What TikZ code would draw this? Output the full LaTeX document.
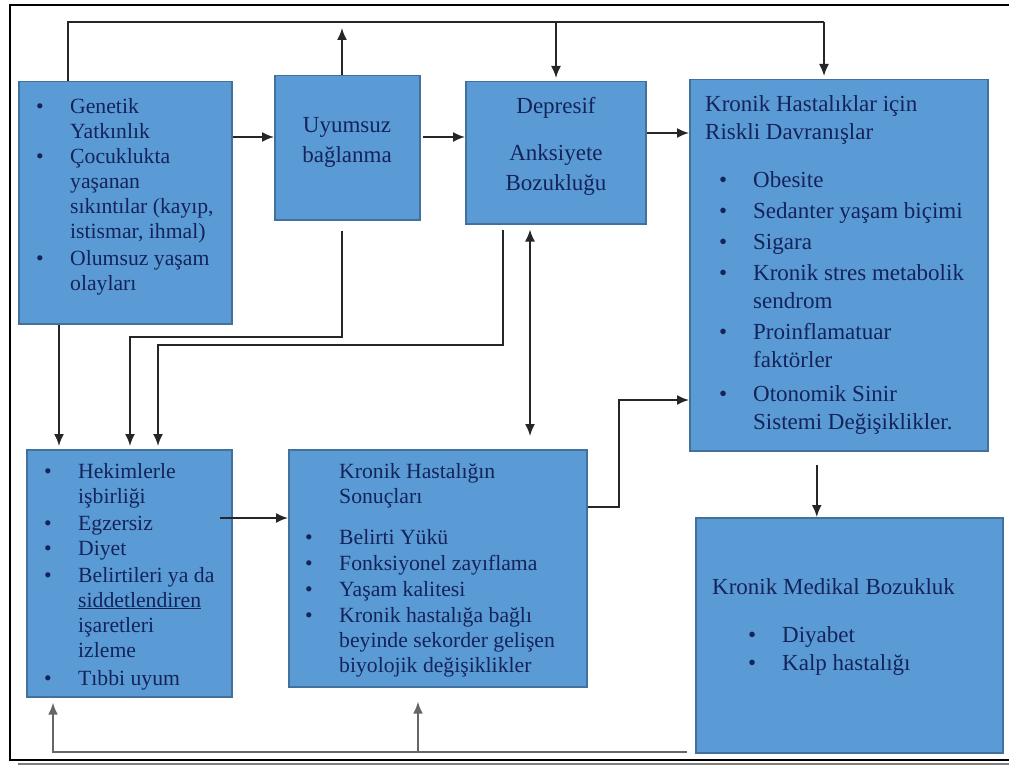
\documentclass[tikz,border=0pt]{standalone}
\usepackage{fontspec}
\setmainfont{Liberation Serif}
\usepackage{tikz}
\usetikzlibrary{calc}
\usetikzlibrary{arrows.meta}
\usetikzlibrary{positioning}
\definecolor{boxfill}{HTML}{5B9BD5}
\definecolor{boxline}{HTML}{41719C}
\definecolor{boxtext}{HTML}{14235A}
\newcommand{\bul}{\makebox[34pt][l]{\textbullet}}
\newcommand{\ind}{\hspace*{34pt}}

\begin{document}
\begin{tikzpicture}[
x=1pt,y=-1pt,
MyBoxes/.style={draw=boxline,fill=boxfill,line width=1.5pt,inner sep=0pt,anchor=north west},
MyText/.style={text=boxtext,inner sep=0pt,align=left,anchor=base west,font=\fontsize{21.7}{25}\selectfont},
BigText/.style={MyText,font=\fontsize{23}{28}\selectfont},
MyLines/.style={draw=black!85,line width=1.8pt},
MyArrows/.style={MyLines,-{Latex[length=12pt,width=10pt]},shorten >=3pt},
FeedLines/.style={draw=black!60,line width=2.4pt},
FeedArrows/.style={FeedLines,-{Latex[length=12pt,width=10pt]}}
]
\useasboundingbox (0,0) rectangle (1009,765);

% page frame
\draw[line width=2.5pt] (1009,5) -- (10,5) -- (10,760) -- (1009,760);
\draw[gray,line width=3pt] (18,764) -- (1009,764);

% boxes
\node[MyBoxes,minimum width=213pt,minimum height=242pt] (gen) at (18,81) {};
\node[MyBoxes,minimum width=145pt,minimum height=144pt] (uyum) at (274,75) {};
\node[MyBoxes,minimum width=180pt,minimum height=142pt] (dep) at (465,81) {};
\node[MyBoxes,minimum width=298pt,minimum height=371pt] (risk) at (689,79) {};
\node[MyBoxes,minimum width=205pt,minimum height=247pt] (hek) at (26,449) {};
\node[MyBoxes,minimum width=298pt,minimum height=237pt] (sonuc) at (288,449) {};
\node[MyBoxes,minimum width=307pt,minimum height=235pt] (med) at (695,517) {};

% texts (anchored at the baseline of their last line)
\node[MyText] (gentxt) at (36,290) {\bul Genetik\\ \ind Yatkınlık\\ \bul Çocuklukta\\ \ind yaşanan\\ \ind sıkıntılar (kayıp,\\ \ind istismar, ihmal)\\[2pt] \bul Olumsuz yaşam\\ \ind olayları};
\node[BigText,align=center,anchor=base] (uyumtxt) at (347,162) {Uyumsuz\\[1pt] bağlanma};
\node[BigText,align=center,anchor=base] (deptxt) at (556,190) {Depresif\\[19pt] Anksiyete\\[2pt] Bozukluğu};
\node[BigText] (risktxt) at (705,429) {Kronik Hastalıklar için\\ Riskli Davranışlar\\[20pt]
\hspace*{14pt}\bul Obesite\\[3pt]
\hspace*{14pt}\bul Sedanter yaşam biçimi\\[3pt]
\hspace*{14pt}\bul Sigara\\[3pt]
\hspace*{14pt}\bul Kronik stres metabolik\\
\hspace*{48pt}sendrom\\[3pt]
\hspace*{14pt}\bul Proinflamatuar\\
\hspace*{48pt}faktörler\\[6pt]
\hspace*{14pt}\bul Otonomik Sinir\\
\hspace*{48pt}Sistemi Değişiklikler.};
\node[MyText] (hektxt) at (44,685) {\bul Hekimlerle\\ \ind işbirliği\\[2pt] \bul Egzersiz\\ \bul Diyet\\[2pt] \bul Belirtileri ya da\\ \ind \underline{siddetlendiren}\\ \ind işaretleri\\ \ind izleme\\[3pt] \bul Tıbbi uyum};
\node[MyText] (sonuctxt) at (305,672) {\ind Kronik Hastalığın\\ \ind Sonuçları\\[16pt] \bul Belirti Yükü\\[1pt] \bul Fonksiyonel zayıflama\\[1pt] \bul Yaşam kalitesi\\[1pt] \bul Kronik hastalığa bağlı\\ \ind beyinde sekorder gelişen\\ \ind biyolojik değişiklikler};
\node[BigText] (medtxt) at (712,670) {Kronik Medikal Bozukluk\\[20pt] \hspace*{36pt}\bul Diyabet\\ \hspace*{36pt}\bul Kalp hastalığı};

% bends of the connectors
\coordinate (tA) at (68,22);
\coordinate (tC) at (556,22);
\coordinate (tD) at (824,22);
\coordinate (upB) at (342,28);
\coordinate (rowA) at (0,137);
\coordinate (rowC) at (0,133);
\coordinate (kB) at (130,337);
\coordinate (kC) at (158,345);
\coordinate (rowE) at (0,518);
\coordinate (rowF) at (0,507);
\coordinate (kF) at (619,400);
\coordinate (fb) at (687,752);
\coordinate (fbL) at (53,752);
\coordinate (fbF) at (418,752);

% connectors
\draw[MyLines] (gen.north -| tA) -- (tA) -- (tD);
\draw[MyArrows] (tD) -- (tD |- risk.north);
\draw[MyArrows] (tC) -- (tC |- dep.north);
\draw[MyArrows,shorten >=0pt] (uyum.north -| upB) -- (upB);
\draw[MyArrows,shorten >=0pt] (gen.east |- rowA) -- (uyum.west |- rowA);
\draw[MyArrows,shorten >=0pt] ($(uyum.east |- rowA)+(2,0)$) -- (dep.west |- rowA);
\draw[MyArrows,shorten >=0pt] (dep.east |- rowC) -- (risk.west |- rowC);
\draw[MyArrows] ($(uyum.south -| upB)+(0,10)$) |- (kB) -- (kB |- hek.north);
\draw[MyArrows] ($(gen.south west)+(41,0)$) -- ($(hek.north west)+(33,0)$);
\draw[MyArrows] ($(dep.south west)+(38,5)$) |- (kC) -- (kC |- hek.north);
\draw[MyLines,{Latex[length=12pt,width=10pt]}-{Latex[length=12pt,width=10pt]}] ($(dep.south west)+(65,5)$) -- ($(sonuc.north west)+(242,-13)$);
\draw[MyArrows,shorten >=0pt] ($(hek.east |- rowE)+(-13,0)$) -- (sonuc.west |- rowE);
\draw[MyArrows,shorten >=0pt] (sonuc.east |- rowF) -| (kF) -- (risk.west |- kF);
\draw[MyArrows,shorten >=0pt] ($(risk.south)+(-22,13)$) -- ($(med.north)+(-32.5,0)$);
\draw[FeedArrows] (fb) -- (fbL) -- ($(hek.south west)+(27,5)$);
\draw[FeedArrows] (fbF) -- ($(sonuc.south west)+(130,14)$);

\end{tikzpicture}
\end{document}
